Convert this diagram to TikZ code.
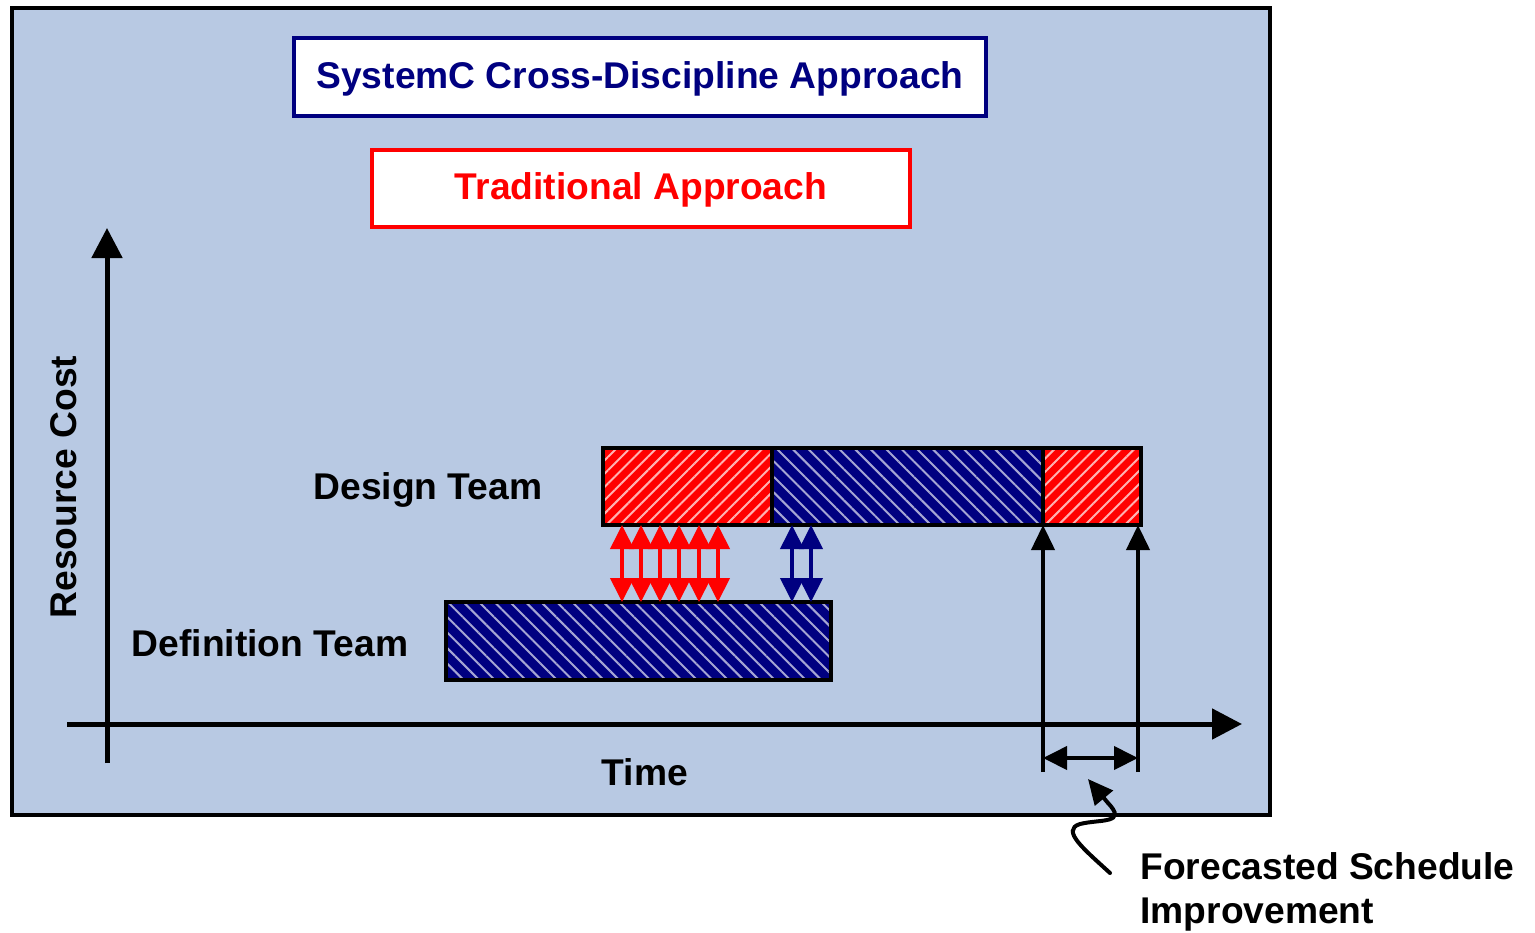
\documentclass[tikz,border=0pt]{standalone}
\usepackage{fontspec}
\setmainfont{Liberation Sans}
\usetikzlibrary{arrows.meta,patterns.meta}
\definecolor{panel}{RGB}{184,201,227}
\definecolor{navyblue}{RGB}{0,0,128}
\definecolor{hotred}{RGB}{255,0,0}
\tikzset{
  label text/.style={font=\fontsize{18.6}{22}\selectfont\bfseries},
  title box/.style={draw, line width=2pt, fill=white, minimum height=39pt, inner sep=0pt,
    text height=13.6pt, text depth=2pt},
  redbar/.style={draw=black, line width=2pt, inner sep=0pt, outer sep=0pt, anchor=north west,
    minimum height=38.5pt, preaction={fill=hotred},
    pattern={Lines[angle=45,distance=4.7pt,line width=1pt]}, pattern color=white!70!hotred},
  bluebar/.style={draw=black, line width=2pt, inner sep=0pt, outer sep=0pt, anchor=north west,
    minimum height=38.5pt, preaction={fill=navyblue},
    pattern={Lines[angle=-45,distance=5.5pt,line width=1pt]}, pattern color=white!65!navyblue},
  axis/.style={line width=2.5pt, -{Triangle[width=15pt,length=15pt]}},
  talk/.style={line width=2pt, {Triangle[width=11.5pt,length=12pt]}-{Triangle[width=11.5pt,length=12pt]}},
  pointer/.style={line width=2pt, -{Triangle[width=11.5pt,length=12.5pt]}},
}
\begin{document}
\begin{tikzpicture}[x=0.5pt, y=-0.5pt]

     \useasboundingbox (0, 0) rectangle (1535, 932);
     \draw [line width=2pt, fill=panel] (12, 8) rectangle (1270, 815);

     \node (sysc) at (640, 77) [title box, draw=navyblue, minimum width=346pt, text=navyblue, label text] {SystemC Cross-Discipline Approach};
     \node (trad) at (641, 188) [title box, draw=hotred, minimum width=269pt, minimum height=38.5pt, text=hotred, label text] {Traditional Approach};

     \node (dsgnA) at (603, 448) [redbar, minimum width=84.5pt] {};
     \node (dsgnB) at (772, 448) [bluebar, minimum width=135.5pt] {};
     \node (dsgnC) at (1043, 448) [redbar, minimum width=49pt] {};
     \node (defn) at (446, 602) [bluebar, minimum width=192.5pt, minimum height=39pt] {};

     \node (dsgnlbl) at (428, 490) [label text] {Design Team};
     \node (defnlbl) at (270, 643) [label text] {Definition Team};
     \node (cost) at (64, 487) [label text, rotate=90] {Resource Cost};
     \node (time) at (645, 772) [label text] {Time};
     \node (gain) at (1140, 892) [label text, anchor=west, align=left, inner sep=0pt] {Forecasted Schedule\\Improvement};

     \coordinate (ybot) at (107, 763);
     \coordinate (ytop) at (107, 228);
     \coordinate (xleft) at (67, 724);
     \coordinate (xright) at (1242, 724);
     \draw [axis] (ybot) -- (ytop);
     \draw [axis] (xleft) -- (xright);

     \foreach \x in {622, 641, 660, 679, 699, 718}
       \draw [talk, hotred] (\x, 0 |- dsgnA.south) -- (\x, 0 |- defn.north);
     \foreach \x in {792, 811}
       \draw [talk, navyblue] (\x, 0 |- dsgnB.south) -- (\x, 0 |- defn.north);

     \coordinate (oldend) at (1043, 772);
     \coordinate (newend) at (1138, 772);
     \draw [pointer] (oldend) -- (oldend |- dsgnC.south);
     \draw [pointer] (newend) -- (newend |- dsgnC.south);
     \draw [talk] (1043, 758) -- (1138, 758);

     \coordinate (tail) at (1110, 873);
     \draw [pointer, line cap=round] (tail) .. controls (1085, 850) and (1060, 830) .. (1080, 824)
       .. controls (1100, 819) and (1128, 824) .. (1108, 803) -- (1088, 779);

\end{tikzpicture}
\end{document}
